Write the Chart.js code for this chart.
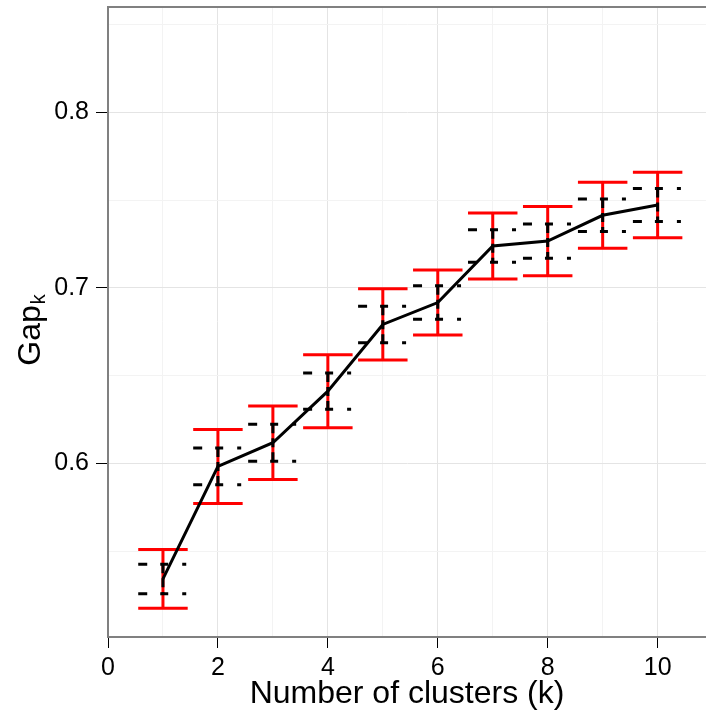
<!DOCTYPE html>
<html><head><meta charset="utf-8">
<script src="https://cdn.jsdelivr.net/npm/chart.js@4"></script>
<style>html,body{margin:0;padding:0;background:#fff}#wrap{width:706px;height:715px;position:relative}</style>
</head><body><div id="wrap"><canvas id="c"></canvas></div>
<script>
const clusters = [1, 2, 3, 4, 5, 6, 7, 8, 9, 10];
const gapValues = [0.5342, 0.5983, 0.6118, 0.6412, 0.6792, 0.6917, 0.7239, 0.7267, 0.7414, 0.7473];
const outerErr = [0.0167, 0.0211, 0.0209, 0.0208, 0.0203, 0.0185, 0.0188, 0.0197, 0.0188, 0.0187];
const innerErr = [0.0084, 0.0105, 0.0106, 0.0103, 0.0104, 0.0096, 0.0092, 0.0098, 0.0093, 0.0094];
const xTicks = [0, 1, 2, 3, 4, 5, 6, 7, 8, 9, 10];
const xTickLabels = ['0', '', '2', '', '4', '', '6', '', '8', '', '10'];
const yTicks = [0.55, 0.6, 0.65, 0.7, 0.75, 0.8, 0.85];
const yTickLabels = ['', '0.6', '', '0.7', '', '0.8', ''];
const xTitle = 'Number of clusters (k)';
const yTitleMain = 'Gap';
const yTitleSub = 'k';

const FONT = "'Liberation Sans', Arial, Helvetica, sans-serif";
const CAP = 0.45;

function labelFor(vals, labels, v) {
  const i = vals.findIndex(t => Math.abs(t - v) < 1e-9);
  return i < 0 ? '' : labels[i];
}

const errorBarPlugin = {
  id: 'errorBars',
  beforeDatasetsDraw(chart) {
    const {ctx, chartArea, scales: {x, y}} = chart;
    ctx.save();
    ctx.beginPath();
    ctx.rect(chartArea.left, chartArea.top, chartArea.right - chartArea.left, chartArea.bottom - chartArea.top);
    ctx.clip();
    clusters.forEach((k, i) => {
      const px = x.getPixelForValue(k);
      const l = x.getPixelForValue(k - CAP), r = x.getPixelForValue(k + CAP);
      const g = gapValues[i];
      const yo1 = y.getPixelForValue(g + outerErr[i]), yo2 = y.getPixelForValue(g - outerErr[i]);
      ctx.setLineDash([]);
      ctx.strokeStyle = '#ff0000';
      ctx.lineWidth = 3;
      ctx.lineCap = 'butt';
      ctx.beginPath();
      ctx.moveTo(px, yo1); ctx.lineTo(px, yo2);
      ctx.moveTo(l, yo1); ctx.lineTo(r, yo1);
      ctx.moveTo(l, yo2); ctx.lineTo(r, yo2);
      ctx.stroke();
    });
    clusters.forEach((k, i) => {
      const px = x.getPixelForValue(k);
      const l = x.getPixelForValue(k - CAP), r = x.getPixelForValue(k + CAP);
      const g = gapValues[i];
      const yi1 = y.getPixelForValue(g + innerErr[i]), yi2 = y.getPixelForValue(g - innerErr[i]);
      ctx.strokeStyle = '#000000';
      ctx.lineWidth = 3;
      ctx.setLineDash([9, 13, 8, 14, 4, 30]);
      ctx.beginPath();
      ctx.moveTo(l, yi1); ctx.lineTo(r, yi1);
      ctx.moveTo(l, yi2); ctx.lineTo(r, yi2);
      ctx.stroke();
      ctx.setLineDash([9, 5]);
      ctx.beginPath();
      ctx.moveTo(px, yi1); ctx.lineTo(px, yi2);
      ctx.stroke();
    });
    ctx.restore();
  },
  afterDraw(chart) {
    const {ctx, chartArea} = chart;
    ctx.save();
    // short top corner of the frame
    ctx.strokeStyle = '#808080';
    ctx.lineWidth = 2;
    ctx.beginPath();
    ctx.moveTo(chartArea.left - 1, chartArea.top);
    ctx.lineTo(chartArea.right, chartArea.top);
    ctx.stroke();
    // y title with subscript
    const cy = (chartArea.top + chartArea.bottom) / 2 + 8;
    ctx.fillStyle = '#000';
    ctx.translate(40, cy);
    ctx.rotate(-Math.PI / 2);
    ctx.font = '32px ' + FONT;
    const wMain = ctx.measureText(yTitleMain).width;
    ctx.font = '20px ' + FONT;
    const wSub = ctx.measureText(yTitleSub).width;
    const total = wMain + wSub + 1;
    ctx.textBaseline = 'alphabetic';
    ctx.textAlign = 'left';
    ctx.font = '32px ' + FONT;
    ctx.fillText(yTitleMain, -total / 2, 0);
    ctx.font = '20px ' + FONT;
    ctx.fillText(yTitleSub, -total / 2 + wMain + 1, 5);
    ctx.restore();
  }
};

new Chart(document.getElementById('c'), {
  type: 'line',
  data: {
    datasets: [{
      data: clusters.map((k, i) => ({x: k, y: gapValues[i]})),
      borderColor: '#000000',
      borderWidth: 3,
      pointRadius: 0,
      tension: 0,
      fill: false
    }]
  },
  options: {
    responsive: true,
    maintainAspectRatio: false,
    animation: false,
    events: [],
    layout: {padding: {top: 7, right: 0, left: 0, bottom: 0}},
    plugins: {legend: {display: false}, tooltip: {enabled: false}},
    scales: {
      x: {
        type: 'linear',
        min: 0,
        max: 10.88,
        afterBuildTicks: s => { s.ticks = xTicks.map(v => ({value: v})); },
        afterFit: s => { s.height = 78; s.paddingLeft = 0; s.paddingRight = 0; },
        border: {color: '#808080', width: 2},
        grid: {
          color: c => (c.tick && c.tick.value % 2 === 0) ? '#e4e4e4' : '#f3f3f3',
          lineWidth: 1,
          tickLength: 11,
          tickColor: c => (c.tick && c.tick.value % 2 === 0) ? '#000000' : 'rgba(0,0,0,0)',
          tickWidth: 1
        },
        ticks: {
          autoSkip: false,
          maxRotation: 0,
          padding: 5,
          color: '#000',
          font: {family: FONT, size: 25},
          callback: v => labelFor(xTicks, xTickLabels, v)
        },
        title: {
          display: true,
          text: xTitle,
          color: '#000',
          font: {family: FONT, size: 32, lineHeight: 1},
          padding: {top: 0, bottom: 5}
        }
      },
      y: {
        type: 'linear',
        min: 0.5011,
        max: 0.8601,
        afterBuildTicks: s => { s.ticks = yTicks.map(v => ({value: v})); },
        afterFit: s => { s.width = 108; s.paddingTop = 0; s.paddingBottom = 0; },
        border: {color: '#808080', width: 2},
        grid: {
          color: c => (c.tick && [0.6, 0.7, 0.8].some(t => Math.abs(t - c.tick.value) < 1e-9)) ? '#e4e4e4' : '#f3f3f3',
          lineWidth: 1,
          tickLength: 12,
          tickColor: c => (c.tick && [0.6, 0.7, 0.8].some(t => Math.abs(t - c.tick.value) < 1e-9)) ? '#000000' : 'rgba(0,0,0,0)',
          tickWidth: 1
        },
        ticks: {
          autoSkip: false,
          padding: 7,
          color: '#000',
          font: {family: FONT, size: 25},
          callback: v => labelFor(yTicks, yTickLabels, v)
        }
      }
    }
  },
  plugins: [errorBarPlugin]
});
</script>
</body></html>
